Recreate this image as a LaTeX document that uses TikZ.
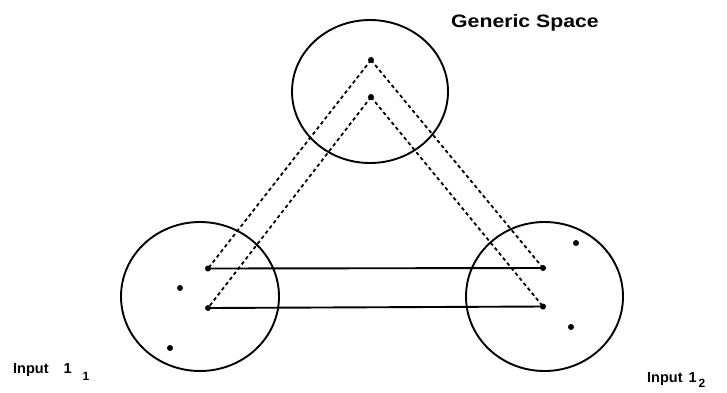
\documentclass[tikz,border=0pt]{standalone}
\usepackage{fontspec}
\setmainfont{Liberation Sans}
\tikzset{
  space/.style={draw=black, line width=1.9pt, ellipse, inner sep=0pt},
  pt/.style={circle, fill=black, inner sep=0pt, minimum size=6pt},
  link/.style={line width=1.9pt},
  maplink/.style={line width=1.8pt, dash pattern=on 3.5pt off 3pt},
  lbl/.style={inner sep=0pt, font=\fontsize{14.5}{14.5}\selectfont\bfseries},
}
\usetikzlibrary{shapes.geometric}
\begin{document}
\begin{tikzpicture}[x=1pt,y=-1pt]
\useasboundingbox (0,0) rectangle (727,392);
% spaces
\node[space, minimum width=156pt, minimum height=143pt] (G) at (370,91.5) {};
\node[space, minimum width=158pt, minimum height=149pt] (I1) at (200,296.5) {};
\node[space, minimum width=157pt, minimum height=149pt] (I2) at (544.5,296.5) {};
% elements
\node[pt] (g1) at (371,60) {};
\node[pt] (g2) at (371,97) {};
\node[pt] (a1) at (208,268.5) {};
\node[pt] (a2) at (208,308) {};
\node[pt] (a3) at (180,288) {};
\node[pt] (a4) at (170,348) {};
\node[pt] (b1) at (543,268) {};
\node[pt] (b2) at (543,306.5) {};
\node[pt] (b3) at (576,243) {};
\node[pt] (b4) at (571,327) {};
% counterpart connectors
\draw[link] (a1.center) -- (b1.center);
\draw[link] (a2.center) -- (b2.center);
% generic mappings
\draw[maplink] (g1.center) -- (a1.center);
\draw[maplink] (g2.center) -- (a2.center);
\draw[maplink] (g1.center) -- (b1.center);
\draw[maplink] (g2.center) -- (b2.center);
% labels
\node[inner sep=0pt, anchor=base west, font=\fontsize{18}{18}\selectfont\bfseries] (tg) at (451,27) {\scalebox{1.18}[1]{Generic Space}};
\node[lbl, anchor=base west] (t1) at (13,373) {Input\hspace{15pt}1\hspace{11pt}\raisebox{-7pt}{\fontsize{12}{12}\selectfont 1}};
\node[lbl, anchor=base west] (t2) at (647,382) {Input\hspace{6pt}1\hspace{2pt}\raisebox{-5pt}{\fontsize{12}{12}\selectfont 2}};
\end{tikzpicture}
\end{document}
